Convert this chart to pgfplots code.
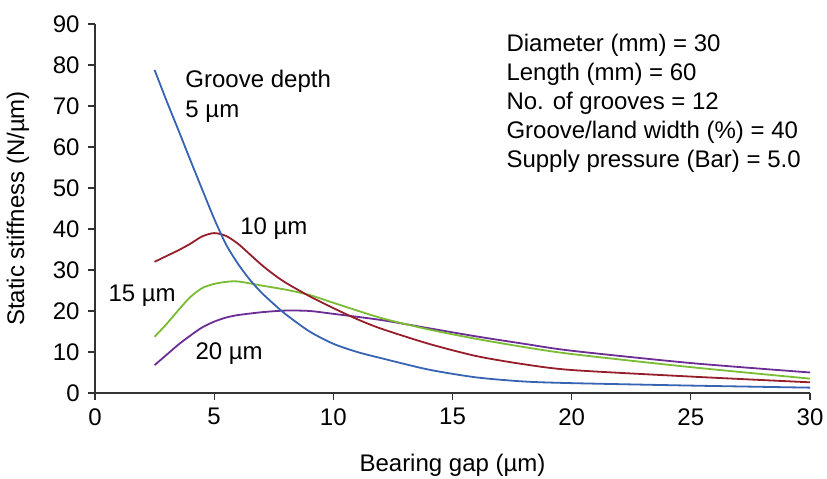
\documentclass[12pt,border=0pt]{standalone}
\usepackage{fontspec}
\setmainfont{Liberation Sans}
\usepackage{pgfplots}
\pgfplotsset{compat=1.18}
\definecolor{gBlue}{RGB}{55,100,178}
\definecolor{gRed}{RGB}{150,30,42}
\definecolor{gGreen}{RGB}{122,188,52}
\definecolor{gPurple}{RGB}{108,45,148}

\begin{document}
\begin{tikzpicture}
\begin{axis}[
    scale only axis,
    width=357.5pt, height=184.5pt,
    xmin=0, xmax=30, ymin=0, ymax=90,
    xtick={0,5,...,30}, ytick={0,10,...,90},
    axis lines=left,
    axis line style={-, black!80, line width=0.7pt},
    tick align=outside,
    major tick length=3.5pt,
    tick style={black!80, line width=0.6pt},
    /pgf/number format/assume math mode=true,
    xlabel={Bearing gap (µm)},
    ylabel={Static stiffness (N/µm)},
    xlabel style={at={(axis description cs:0.5,-0.195)}, anchor=center},
    ylabel style={at={(axis description cs:-0.1077,0.5)}, anchor=center},
    clip=false,
    every axis plot/.append style={line width=0.9pt, no markers, smooth, tension=0.45},
]
% 20 um
\addplot[gPurple] coordinates {(2.5,6.8) (3,9.3) (3.5,11.8) (4,14) (4.5,16) (5,17.4) (5.5,18.4) (6,19) (7,19.7) (8,20.1) (9,20) (10,19.3) (12,17.8) (14,15.8) (16,13.8) (18,12) (20,10.3) (25,7.3) (30,5)};
% 15 um
\addplot[gGreen] coordinates {(2.5,13.7) (3,16.8) (3.5,20.2) (4,23.4) (4.5,25.6) (5,26.6) (5.5,27.1) (6,27.2) (7,26.2) (8,25.2) (9,23.9) (10,22) (12,18.3) (14,15.5) (16,13.2) (18,11.2) (20,9.5) (25,6.3) (30,3.5)};
% 10 um
\addplot[gRed] coordinates {(2.5,32) (3,33.4) (3.5,34.8) (4,36.4) (4.5,38.2) (5,39) (5.5,38.3) (6,36.4) (6.5,33.8) (7,31.2) (7.5,28.9) (8,26.9) (9,23.6) (10,20.7) (11,18) (12,15.7) (14,12) (16,9) (18,7) (20,5.6) (25,4) (30,2.6)};
% 5 um
\addplot[gBlue] coordinates {(2.5,78.8) (3,71.3) (3.5,64.1) (4,56.8) (4.5,49.6) (5,42.5) (5.5,36.2) (6,31.5) (6.5,27.6) (7,24.4) (7.5,21.7) (8,19.2) (9,15) (10,12) (11,10) (12,8.5) (14,5.7) (16,3.8) (18,2.8) (20,2.4) (25,1.8) (30,1.3)};

\node[anchor=west, inner sep=0pt] at (axis cs:3.78,76) {Groove depth};
\node[anchor=west, inner sep=0pt] at (axis cs:3.78,68.5) {5 µm};
\node[anchor=west, inner sep=0pt] at (axis cs:6.08,40.2) {10 µm};
\node[anchor=west, inner sep=0pt] at (axis cs:0.55,23.7) {15 µm};
\node[anchor=west, inner sep=0pt] at (axis cs:4.2,9.5) {20 µm};
\node[anchor=north west, inner sep=0pt, align=left] at (axis cs:17.25,87.6) {Diameter (mm) = 30\\Length (mm) = 60\\No. of grooves = 12\\Groove/land width (\%) = 40\\Supply pressure (Bar) = 5.0};

\coordinate (bl) at (rel axis cs:0,0);
\coordinate (tr) at (rel axis cs:1,1);
\end{axis}
\pgfresetboundingbox
\path ([xshift=-47.5pt,yshift=-43pt]bl) rectangle ([xshift=8.5pt,yshift=12pt]tr);
\end{tikzpicture}
\end{document}
